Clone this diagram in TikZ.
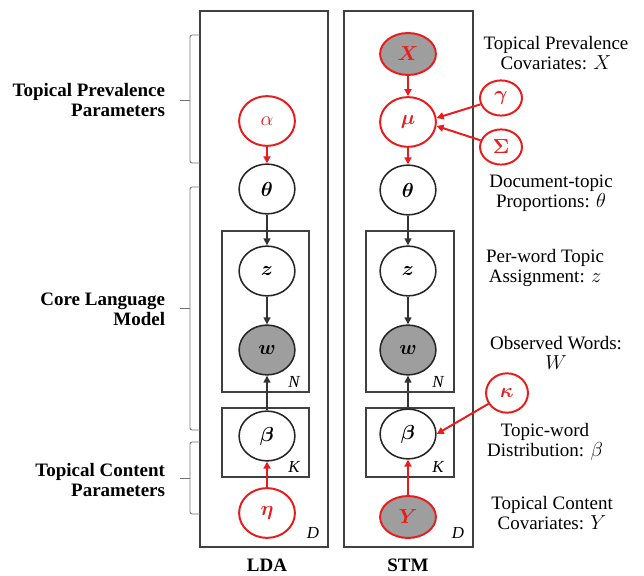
\documentclass[tikz,border=0pt]{standalone}
\usepackage{amsmath,bm}
\usepackage{fontspec}
\setmainfont{Liberation Serif}
\usetikzlibrary{shapes.geometric,arrows.meta}
\definecolor{prior}{RGB}{232,28,28}
\definecolor{shade}{RGB}{158,158,158}
\tikzset{
    var/.style={ellipse, draw=black!85, line width=1.1pt, fill=white,
        minimum width=39.7pt, minimum height=35.4pt, inner sep=0pt,
        font=\fontsize{14}{16}\selectfont},
    obs/.style={var, fill=shade},
    hyp/.style={var, draw=prior, text=prior, line width=1.4pt},
    hypsmall/.style={hyp, minimum width=29.8pt, minimum height=25pt},
    plate/.style={draw=black!75, line width=0.9pt},
    platelbl/.style={font=\fontsize{12}{12}\selectfont\itshape},
    dep/.style={-{Triangle[length=5pt,width=5pt]}, line width=1pt, black!80},
    pridep/.style={dep, prior, line width=1.4pt},
    brk/.style={black!55, line width=0.6pt, rounded corners=1.5pt},
    sidelbl/.style={align=right, anchor=east, font=\fontsize{13.5}{14.2}\selectfont\bfseries},
    note/.style={align=center, font=\fontsize{13.5}{14.2}\selectfont},
    model/.style={anchor=base, inner sep=0pt, font=\fontsize{13.5}{14}\selectfont\bfseries}
}
\begin{document}
\begin{tikzpicture}[x=0.025cm, y=-0.025cm]
    \useasboundingbox (0,0) rectangle (644,576);
    % plates
    \draw[plate]
        (200,11) rectangle (328,547)
        (222,231) rectangle (309,392)
        (222,408) rectangle (309,477)
        (344,11) rectangle (473,547)
        (366,231) rectangle (454,392)
        (366,408) rectangle (454,477);
    \node[platelbl] at (313,533) {D};
    \node[platelbl] at (294,382) {N};
    \node[platelbl] at (294,467) {K};
    \node[platelbl] at (458,533) {D};
    \node[platelbl] at (438,382) {N};
    \node[platelbl] at (438,467) {K};
    % LDA
    \node[hyp] (alpha) at (267,121) {$\alpha$};
    \node[var] (theta1) at (267,189) {$\bm{\theta}$};
    \node[var] (z1) at (267,271) {$\bm{z}$};
    \node[obs] (w1) at (267,350) {$\bm{w}$};
    \node[var] (beta1) at (267,436) {$\bm{\beta}$};
    \node[hyp] (eta) at (267,513) {$\bm{\eta}$};
    \draw[pridep] (alpha) -- (theta1);
    \draw[dep] (theta1) -- (z1);
    \draw[dep] (z1) -- (w1);
    \draw[dep] (beta1) -- (w1);
    \draw[pridep] (eta) -- (beta1);
    % STM
    \node[hyp, fill=shade, minimum height=29.8pt] (X) at (408,54) {$\bm{X}$};
    \node[hyp] (mu) at (408,122) {$\bm{\mu}$};
    \node[var] (theta2) at (408,190) {$\bm{\theta}$};
    \node[var] (z2) at (408,271) {$\bm{z}$};
    \node[obs] (w2) at (408,350) {$\bm{w}$};
    \node[var] (beta2) at (408,434) {$\bm{\beta}$};
    \node[hyp, fill=shade, minimum height=29.8pt] (Y) at (408,517) {$\bm{Y}$};
    \node[hypsmall] (gamma) at (501,98) {$\bm{\gamma}$};
    \node[hypsmall] (Sigma) at (501,147) {$\bm{\Sigma}$};
    \node[hypsmall, minimum height=28pt] (kappa) at (507,393) {$\bm{\kappa}$};
    \draw[pridep] (X) -- (mu);
    \draw[pridep] (mu) -- (theta2);
    \draw[pridep] (gamma) -- (mu.8);
    \draw[pridep] (Sigma) -- (mu.-8);
    \draw[dep] (theta2) -- (z2);
    \draw[dep] (z2) -- (w2);
    \draw[dep] (beta2) -- (w2);
    \draw[pridep] (Y) -- (beta2);
    \draw[pridep] (kappa) -- (beta2.east);
    % brackets
    \draw[brk] (200,35) -- (190,35) -- (190,163) -- (200,163);
    \draw[brk] (190,100) -- (180,100);
    \draw[brk] (200,187) -- (190,187) -- (190,430) -- (200,430);
    \draw[brk] (190,308) -- (180,308);
    \draw[brk] (200,442) -- (190,442) -- (190,514) -- (200,514);
    \draw[brk] (190,478) -- (180,478);
    \node[sidelbl] (prevpar) at (170,100) {Topical Prevalence\\Parameters};
    \node[sidelbl] (core) at (170,309) {Core Language\\Model};
    \node[sidelbl] (contpar) at (170,480) {Topical Content\\Parameters};
    % captions
    \node[note] (capX) at (556,53) {Topical Prevalence\\Covariates: $X$};
    \node[note] (captheta) at (551,193) {Document-topic\\Proportions: $\theta$};
    \node[note] (capz) at (545,268) {Per-word Topic\\Assignment: $z$};
    \node[note] (capw) at (556,353) {Observed Words:\\$W$};
    \node[note] (capbeta) at (545,442) {Topic-word\\Distribution: $\beta$};
    \node[note] (capY) at (552,513) {Topical Content\\Covariates: $Y$};
    \node[model] (lda) at (267,571) {LDA};
    \node[model] (stm) at (408,571) {STM};
\end{tikzpicture}
\end{document}
